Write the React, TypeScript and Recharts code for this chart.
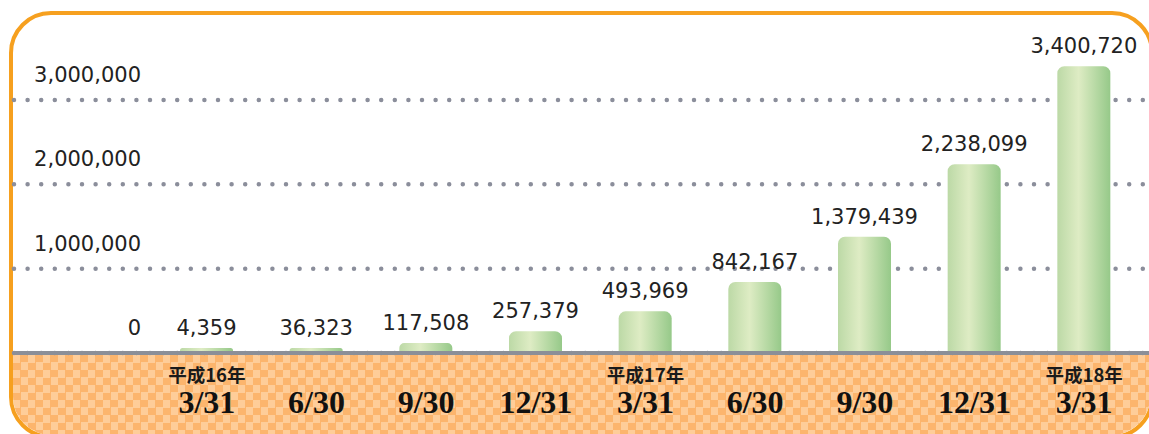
import React from 'react';
import { BarChart, Bar, XAxis, YAxis, CartesianGrid, LabelList, ReferenceLine } from 'recharts';

const dates = ['3/31', '6/30', '9/30', '12/31', '3/31', '6/30', '9/30', '12/31', '3/31'];
const eras = ['平成16年', '', '', '', '平成17年', '', '', '', '平成18年'];
const counts = [4359, 36323, 117508, 257379, 493969, 842167, 1379439, 2238099, 3400720];
const yTicks = [0, 1000000, 2000000, 3000000];

const data = dates.map((d, i) => ({ key: `${i}`, date: d, era: eras[i], value: counts[i] }));

const fmt = (v: number) => v.toLocaleString('en-US');

const tickLabel = (v: number) => (props: any) => {
    const vb = props.viewBox || {};
    return (
        <text x={141} y={vb.y - 18} textAnchor="end" fontFamily="DejaVu Sans" fontSize={21} fill="#222">
            {fmt(v)}
        </text>
    );
};

const XTick = (props: any) => {
    const { x, y, payload, index } = props;
    const row = data[index] || data[payload.index];
    return (
        <g>
            {row && row.era ? (
                <text x={x} y={y + 29} textAnchor="middle" fontFamily="Noto Sans CJK JP" fontWeight="bold" fontSize={18.5} fill="#1a1a1a">
                    {row.era}
                </text>
            ) : null}
            <text x={x} y={y + 60} textAnchor="middle" fontFamily="Liberation Serif" fontWeight="bold" fontSize={32} fill="#111">
                {row ? row.date : ''}
            </text>
        </g>
    );
};

const DotLine = (props: any) => {
    const { x1, x2, y1, y2 } = props;
    return (
        <line x1={x1} x2={x2} y1={y1} y2={y2} stroke="#8b8e9b" strokeWidth={4.5}
            strokeDasharray="0 13.6" strokeLinecap="round" />
    );
};

const App: React.FC = () => {
    return (
        <div style={{ position: 'absolute', left: 0, top: 0, width: 1149, height: 434, overflow: 'hidden', background: '#fff' }}>
            <div style={{
                position: 'absolute', left: 9, top: 11, width: 1145, height: 428, boxSizing: 'border-box',
                border: '4px solid #f6a01f', borderRadius: 42, overflow: 'hidden', background: '#fff',
            }}>
                <div style={{
                    position: 'absolute', left: 0, right: 0, top: 340, bottom: 0,
                    background: 'repeating-conic-gradient(#fcb56d 0% 25%, #fecd99 0% 50%) 0 0 / 15px 15px',
                }} />
            </div>
            <div style={{ position: 'absolute', left: 0, top: 0 }}>
                <BarChart width={1149} height={434} data={data} barSize={53}
                    margin={{ top: 15.67, right: 0, bottom: 0, left: 14 }}>
                    <defs>
                        <linearGradient id="barGrad" x1="0" y1="0" x2="1" y2="0">
                            <stop offset="0%" stopColor="#bcd9a6" />
                            <stop offset="40%" stopColor="#deecc4" />
                            <stop offset="100%" stopColor="#96c989" />
                        </linearGradient>
                    </defs>
                    <CartesianGrid vertical={false} horizontal={DotLine} horizontalValues={yTicks} />
                    <YAxis domain={[0, 4000000]} ticks={yTicks} hide />
                    {yTicks.map((t) => (
                        <ReferenceLine key={t} y={t} stroke="none" label={tickLabel(t)} />
                    ))}
                    <Bar dataKey="value" fill="url(#barGrad)" radius={[7, 7, 0, 0]} minPointSize={5} isAnimationActive={false}>
                        <LabelList dataKey="value" position="top" offset={13} formatter={(v: any) => fmt(Number(v))}
                            style={{ fontFamily: 'DejaVu Sans', fontSize: 21, fill: '#222' }} />
                    </Bar>
                    <XAxis dataKey="key" height={81} tickLine={false} tickSize={0} tickMargin={0} interval={0}
                        axisLine={{ stroke: '#8b8f98', strokeWidth: 4 }} padding={{ left: 138, right: 10 }}
                        tick={XTick} />
                </BarChart>
            </div>
        </div>
    );
};

export default App;
